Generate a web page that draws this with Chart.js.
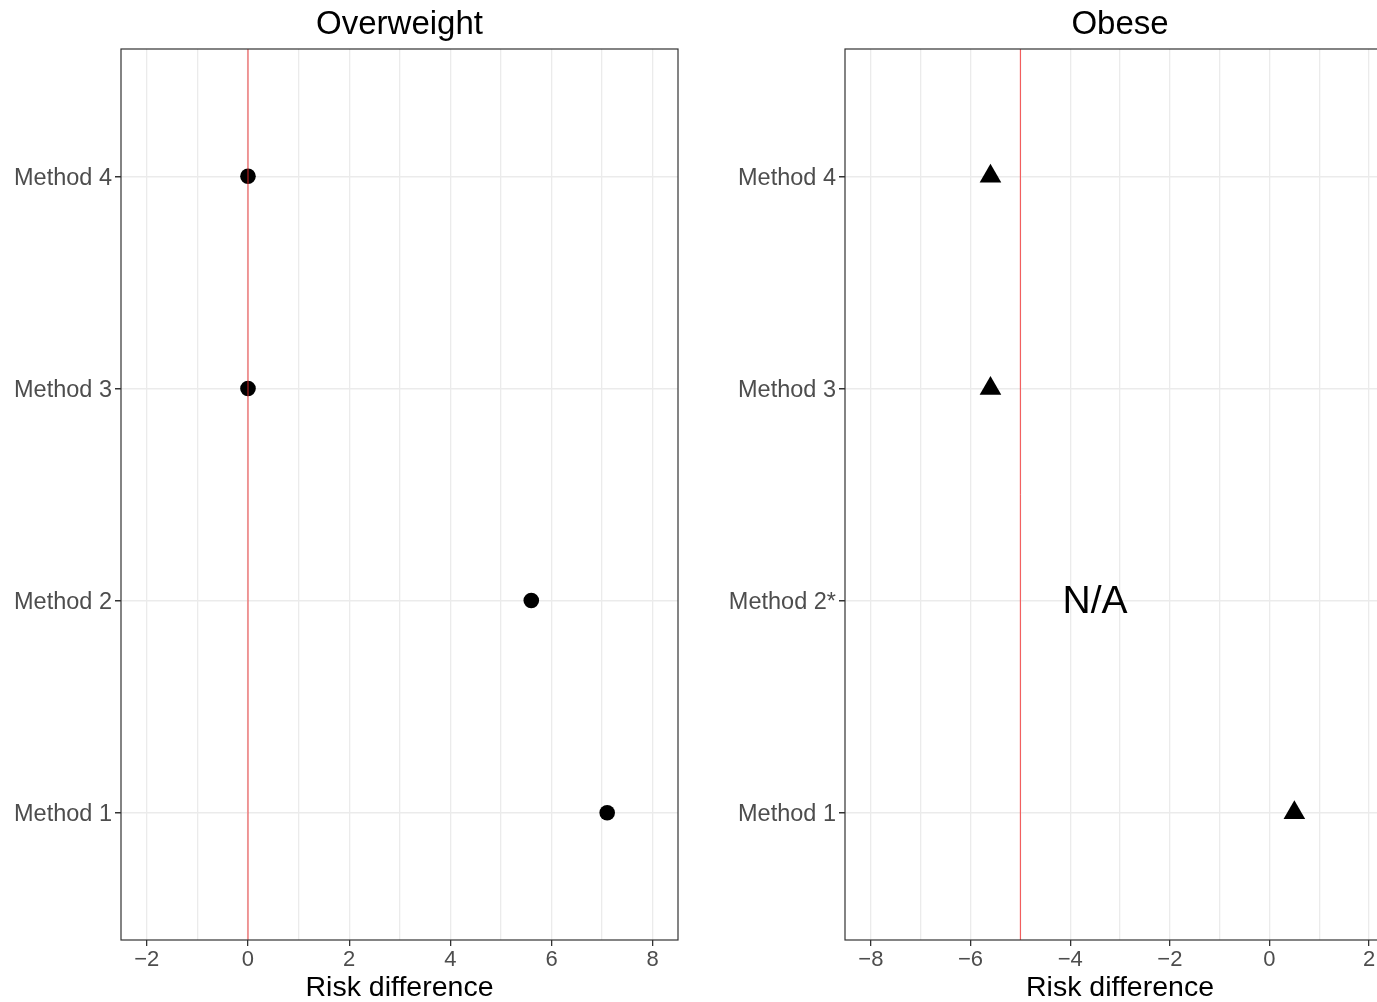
<!DOCTYPE html>
<html>
<head>
<meta charset="utf-8">
<script src="https://cdn.jsdelivr.net/npm/chart.js@4/dist/chart.umd.min.js"></script>
<style>
  html, body { margin: 0; padding: 0; background: #fff; overflow: hidden; width: 1377px; height: 1002px; }
  canvas { position: absolute; top: 0; }
  #overweightChart { left: 0; }
  #obeseChart { left: 700px; }
</style>
</head>
<body>
<canvas id="overweightChart" width="700" height="1002"></canvas>
<canvas id="obeseChart" width="724" height="1002"></canvas>
<script>
// categories (bottom to top)
const levels = [1, 2, 3, 4];
const overweightLabels = ["Method 1", "Method 2", "Method 3", "Method 4"];
const obeseLabels = ["Method 1", "Method 2*", "Method 3", "Method 4"];

// risk differences
const overweightRD = [7.1, 5.6, 0, 0];
const obeseRD = [0.5, null, -5.6, -5.6];

// reference lines
const overweightRef = 0;
const obeseRef = -5;

// x ticks (odd = minor grid only)
const overweightTicks = [-2, -1, 0, 1, 2, 3, 4, 5, 6, 7, 8];
const obeseTicks = [-8, -7, -6, -5, -4, -3, -2, -1, 0, 1, 2];

const naNote = { text: "N/A", x: -3.5, y: 2 };

const FONT = "'Liberation Sans', Arial, Helvetica, sans-serif";

const fmt = v => (v < 0 ? "\u2212" + Math.abs(v) : String(v));

const panelDecor = {
  id: "panelDecor",
  afterDatasetsDraw(chart, args, opts) {
    const { ctx, chartArea: a } = chart;
    ctx.save();
    ctx.strokeStyle = "#333";
    ctx.lineWidth = 1.2;
    ctx.strokeRect(a.left, a.top, a.right - a.left, a.bottom - a.top);
    ctx.fillStyle = "#000";
    ctx.textAlign = "center";
    ctx.textBaseline = "alphabetic";
    ctx.font = "33px " + FONT;
    ctx.fillText(opts.title, (a.left + a.right) / 2, 34);
    if (opts.note) {
      const x = chart.scales.x.getPixelForValue(opts.note.x);
      const y = chart.scales.y.getPixelForValue(opts.note.y);
      ctx.textBaseline = "middle";
      ctx.font = "39px " + FONT;
      ctx.fillText(opts.note.text, x, y + 2);
    }
    ctx.restore();
  }
};

function makePanel(id, title, labels, values, ref, ticks, xmin, xmax, yWidth, padRight, shape, radius, refStyle, note) {
  const pts = levels.map((lv, i) => values[i] == null ? null : { x: values[i], y: lv }).filter(p => p);
  return new Chart(document.getElementById(id).getContext("2d"), {
    type: "scatter",
    data: {
      datasets: [
        { data: [{ x: ref, y: 0.4 }, { x: ref, y: 4.6 }], showLine: true, borderColor: refStyle.color,
          borderWidth: refStyle.width, pointRadius: 0, order: 0 },
        { data: pts, pointStyle: shape, pointRadius: radius, pointHoverRadius: radius,
          backgroundColor: "#000", borderColor: "#000", borderWidth: 0, order: 1 }
      ]
    },
    options: {
      responsive: false,
      animation: false,
      layout: { padding: { top: 49, right: padRight, left: 0, bottom: 0 } },
      plugins: {
        legend: { display: false },
        tooltip: { enabled: false },
        panelDecor: { title: title, note: note }
      },
      scales: {
        x: {
          type: "linear", min: xmin, max: xmax,
          afterBuildTicks: s => { s.ticks = ticks.map(v => ({ value: v })); },
          afterFit: s => { s.height = 62; },
          border: { display: false },
          grid: {
            color: "#ebebeb", lineWidth: 1.3, tickLength: 6,
            tickColor: c => (c.tick && c.tick.value % 2 === 0 ? "#333" : "rgba(0,0,0,0)")
          },
          ticks: {
            autoSkip: false, maxRotation: 0, padding: 1, color: "#4d4d4d",
            font: { family: FONT, size: 22 },
            callback: v => (v % 2 === 0 ? fmt(v) : "")
          },
          title: { display: true, text: "Risk difference", color: "#000",
                   font: { family: FONT, size: 28.5, lineHeight: 1.0 }, padding: { top: 0, bottom: 0 } }
        },
        y: {
          type: "linear", min: 0.4, max: 4.6,
          afterBuildTicks: s => { s.ticks = levels.map(v => ({ value: v })); },
          afterFit: s => { s.width = yWidth; },
          border: { display: false },
          grid: { color: "#ebebeb", lineWidth: 1.5, tickLength: 6, tickColor: "#333" },
          ticks: {
            padding: 3, labelOffset: 2, color: "#4d4d4d", font: { family: FONT, size: 23.5 },
            callback: v => labels[levels.indexOf(v)] || ""
          }
        }
      }
    },
    plugins: [panelDecor]
  });
}

makePanel("overweightChart", "Overweight", overweightLabels, overweightRD, overweightRef,
  overweightTicks, -2.51, 8.5, 121, 22, "circle", 7.8, { color: "rgba(235,40,40,0.45)", width: 2 }, null);

makePanel("obeseChart", "Obese", obeseLabels, obeseRD, obeseRef,
  obeseTicks, -8.52, 2.52, 145, 29, "triangle", 12.5, { color: "rgba(245,30,30,0.8)", width: 1 }, naNote);
</script>
</body>
</html>
